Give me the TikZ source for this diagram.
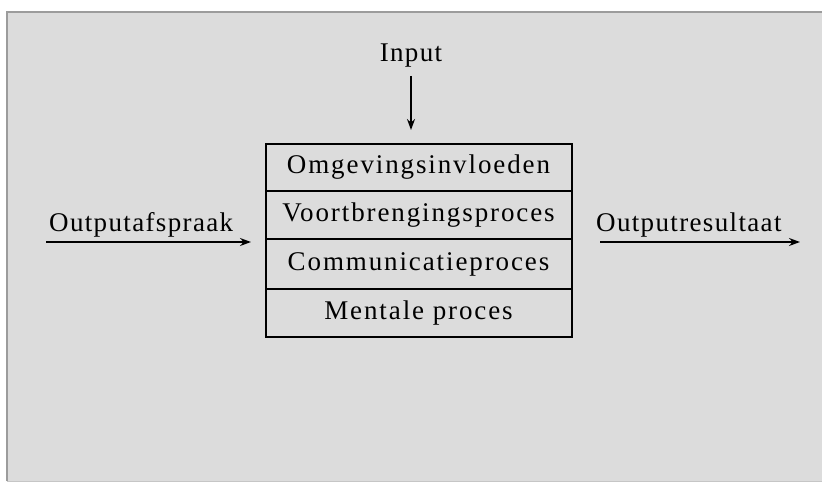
\documentclass[tikz,border=0pt]{standalone}
\usepackage{fontspec}
\setmainfont{Liberation Serif}
\usetikzlibrary{arrows.meta}
\definecolor{panel}{HTML}{DCDCDC}
\definecolor{edge}{HTML}{9C9C9C}
\tikzset{
  row/.style={draw=black, line width=2pt, outer sep=0pt, fill=panel, minimum width=306pt, inner sep=0pt, font=\fontsize{27}{30}\selectfont\addfontfeature{LetterSpace=7}},
  lbl/.style={inner sep=0pt, font=\fontsize{27}{30}\selectfont\addfontfeature{LetterSpace=5}},
  arr/.style={line width=1.6pt, -{Stealth[length=11pt,width=8pt]}}
}
\begin{document}
\begin{tikzpicture}[x=1pt,y=-1pt]
\useasboundingbox (0,0) rectangle (822,483);
\fill[white] (0,0) rectangle (822,483);
\fill[panel] (7,12) rectangle (822,481);
\draw[edge, line width=2pt] (7,481) -- (7,12) -- (822,12);
\draw[panel!90!black, line width=1pt] (7,481) -- (822,481);
% box rows
\node[row, minimum height=47pt] (r1) at (418.5,167.5) {Omgevingsinvloeden};
\node[row, minimum height=48pt, anchor=north] (r2) at (r1.south) {Voortbrengingsproces};
\node[row, minimum height=50pt, anchor=north] (r3) at (r2.south) {Communicatieproces};
\node[row, minimum height=48pt, anchor=north] (r4) at (r3.south) {Mentale proces};
% input
\node[lbl] (in) at (411,56) {Input};
\coordinate (intip) at (411,130);
\draw[arr] (in.south) ++(0,8) -- (intip);
% left
\node[lbl, anchor=base west] (oa) at (49,231) {Outputafspraak};
\coordinate (la1) at (46,242);
\coordinate (la2) at (251,242);
\draw[arr] (la1) -- (la2);
% right
\node[lbl, anchor=base west] (or) at (596,231) {Outputresultaat};
\coordinate (ra1) at (600,242);
\coordinate (ra2) at (800,242);
\draw[arr] (ra1) -- (ra2);
\end{tikzpicture}
\end{document}
